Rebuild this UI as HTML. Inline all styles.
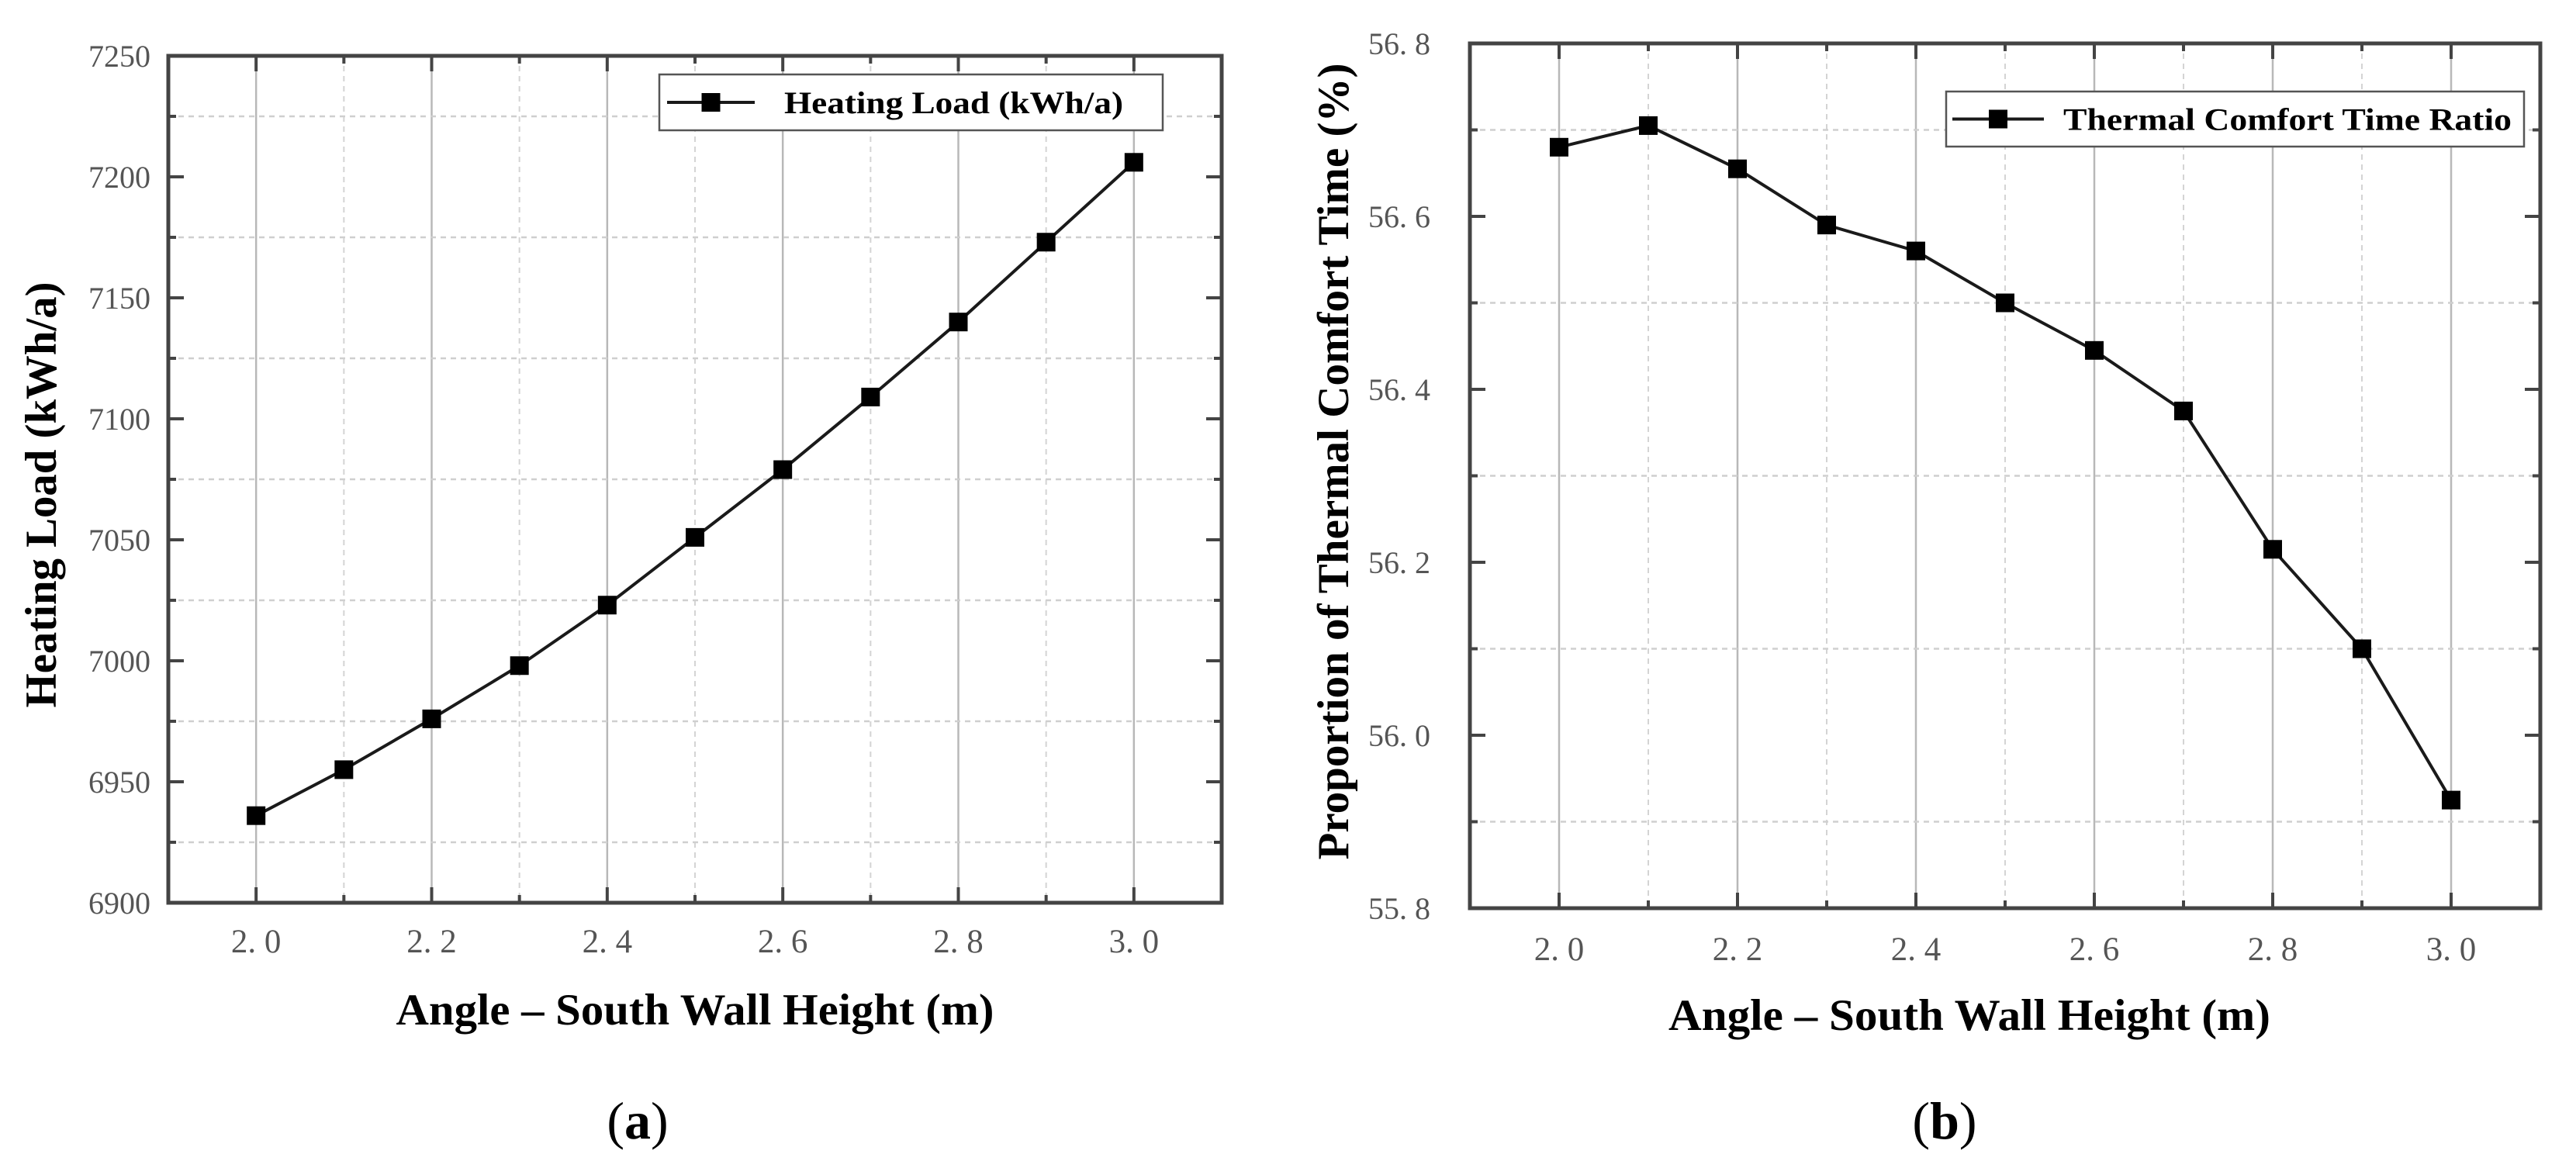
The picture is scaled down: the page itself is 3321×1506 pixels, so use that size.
<!DOCTYPE html>
<html><head><meta charset="utf-8"><style>
html,body{margin:0;padding:0;background:#fff;}
svg{display:block;}
</style></head><body>
<svg id="fig" xmlns="http://www.w3.org/2000/svg" width="3321" height="1506" viewBox="0 0 3321 1506">
<g id="chartA"></g>
<g id="chartB"></g>
</svg>
<script>
// Chart (a) data
const xCategories = [2.0, 2.1, 2.2, 2.3, 2.4, 2.5, 2.6, 2.7, 2.8, 2.9, 3.0];
const heatingLoad = [6936, 6955, 6976, 6998, 7023, 7051, 7079, 7109, 7140, 7173, 7206];
const yTicksA = [6900, 6950, 7000, 7050, 7100, 7150, 7200, 7250];
const yTickLabelsA = ["6900","6950","7000","7050","7100","7150","7200","7250"];
// Chart (b) data
const comfortRatio = [56.68, 56.705, 56.655, 56.59, 56.56, 56.50, 56.445, 56.375, 56.215, 56.10, 55.925];
const yTicksB = [55.8, 56.0, 56.2, 56.4, 56.6, 56.8];
const yTickLabelsB = ["55. 8","56. 0","56. 2","56. 4","56. 6","56. 8"];
const xTicks = [2.0, 2.2, 2.4, 2.6, 2.8, 3.0];
const xTickLabels = ["2. 0","2. 2","2. 4","2. 6","2. 8","3. 0"];

const NS = "http://www.w3.org/2000/svg";
function mk(parent, tag, attrs, text) {
  const e = document.createElementNS(NS, tag);
  for (const k in attrs) e.setAttribute(k, attrs[k]);
  if (text !== undefined) e.textContent = text;
  parent.appendChild(e);
  return e;
}

function drawChart(g, cfg) {
  const L = cfg.L, R = cfg.R, T = cfg.T, B = cfg.B;
  const xs = v => L + (v - 1.9) / 1.2 * (R - L);
  const ys = v => B - (v - cfg.yMin) / (cfg.yMax - cfg.yMin) * (B - T);
  const ticksY = cfg.yTicks;
  const step = ticksY[1] - ticksY[0];
  // grid: vertical
  xCategories.forEach((c, i) => {
    const x = xs(c);
    const ln = mk(g, 'line', {x1:x, x2:x, y1:T, y2:B, stroke: i % 2 === 0 ? '#b8b8b8' : '#d4d4d4', 'stroke-width': i % 2 === 0 ? 2.5 : 2, 'stroke-dasharray': i % 2 === 0 ? '' : '7 6'});
    
    
  });
  // grid: horizontal minor
  for (let i = 0; i < ticksY.length - 1; i++) {
    const y = ys(ticksY[i] + step / 2);
    const ln = mk(g, 'line', {x1:L, x2:R, y1:y, y2:y, stroke:'#cfcfcf', 'stroke-width':2.5, 'stroke-dasharray':'7 6'});
    
    
    for (const [xa, d] of [[L, 10], [R, -10]]) {
      const t = mk(g, 'line', {x1:xa, x2:xa + d, y1:y, y2:y, stroke:'#444', 'stroke-width':4});
      
      
    }
  }
  // y major ticks + labels
  ticksY.forEach((v, i) => {
    const y = ys(v);
    for (const [xa, d] of [[L, 20], [R, -20]]) {
      const t = mk(g, 'line', {x1:xa, x2:xa + d, y1:y, y2:y, stroke:'#444', 'stroke-width':4});
      
      
    }
    const tx = mk(g, 'text', {x:cfg.yLabelX, y:y + 14, 'text-anchor':'end', 'font-family':'"Liberation Serif", serif', 'font-size':40, fill:'#555'}, cfg.yTickLabels[i]);
    
    
  });
  // x ticks
  xCategories.forEach((c, i) => {
    const x = xs(c);
    const len = i % 2 === 0 ? 20 : 10;
    for (const [ya, d] of [[B, -len], [T, len]]) {
      const t = mk(g, 'line', {x1:x, x2:x, y1:ya, y2:ya + d, stroke:'#444', 'stroke-width':4});
      
      
    }
  });
  xTicks.forEach((v, i) => {
    const tx = mk(g, 'text', {x:xs(v), y:cfg.xLabelY, 'text-anchor':'middle', 'font-family':'"Liberation Serif", serif', 'font-size':43, fill:'#555'}, xTickLabels[i]);
    
    
  });
  // frame
  const fr = mk(g, 'rect', {x:L, y:T, width:R - L, height:B - T, fill:'none', stroke:'#444', 'stroke-width':5});
  
  
  // series
  const pts = cfg.values.map((v, i) => xs(xCategories[i]) + ',' + ys(v)).join(' ');
  const pl = mk(g, 'polyline', {points:pts, fill:'none', stroke:'#1a1a1a', 'stroke-width':4});
  
  
  cfg.values.forEach((v, i) => {
    const m = mk(g, 'rect', {x:xs(xCategories[i]) - 12, y:ys(v) - 12, width:24, height:24, fill:'#000'});
    
    
  });
  // legend
  const lg = cfg.legend;
  const lgG = mk(g, 'g', {});
  
  
  mk(lgG, 'rect', {x:lg.x1, y:lg.y1, width:lg.x2 - lg.x1, height:lg.y2 - lg.y1, fill:'#fff', stroke:'#555', 'stroke-width':2.5});
  const cy = (lg.y1 + lg.y2) / 2;
  mk(lgG, 'line', {x1:lg.lx1, x2:lg.lx2, y1:cy, y2:cy, stroke:'#1a1a1a', 'stroke-width':4});
  mk(lgG, 'rect', {x:(lg.lx1 + lg.lx2) / 2 - 12, y:cy - 12, width:24, height:24, fill:'#000'});
  const lt = mk(lgG, 'text', {x:lg.tx1, y:cy + 14, 'font-family':'"Liberation Serif", serif', 'font-weight':'bold', 'font-size':40, fill:'#000', textLength:lg.tx2 - lg.tx1, lengthAdjust:'spacingAndGlyphs'}, lg.text);
  
  
  // axis titles
  const xt = mk(g, 'text', {x:cfg.xTitleX, y:cfg.xTitleY, 'text-anchor':'middle', 'font-family':'"Liberation Serif", serif', 'font-weight':'bold', 'font-size':57, fill:'#000', textLength:cfg.xTitleLen, lengthAdjust:'spacingAndGlyphs'}, 'Angle – South Wall Height (m)');
  
  
  const yt = mk(g, 'text', {x:0, y:0, transform:`translate(${cfg.yTitleX},${cfg.yTitleY}) rotate(-90)`, 'text-anchor':'middle', 'font-family':'"Liberation Serif", serif', 'font-weight':'bold', 'font-size':57, fill:'#000', textLength:cfg.yTitleLen, lengthAdjust:'spacingAndGlyphs'}, cfg.yTitle);
  
  
  // panel label
  const pl2 = mk(g, 'text', {x:cfg.panelX, y:1468, 'text-anchor':'middle', 'font-family':'"Liberation Serif", serif', 'font-size':68, fill:'#000'});
  
  
  mk(pl2, 'tspan', {}, '(');
  mk(pl2, 'tspan', {'font-weight':'bold'}, cfg.panel);
  mk(pl2, 'tspan', {}, ')');
}

drawChart(document.getElementById('chartA'), {
  L:217, R:1575, T:72, B:1164, yMin:6900, yMax:7250,
  yTicks:yTicksA, yTickLabels:yTickLabelsA, values:heatingLoad,
  yLabelX:194, xLabelY:1228,
  legend:{x1:850, y1:96, x2:1499, y2:168, lx1:860, lx2:973, tx1:1011, tx2:1448, text:'Heating Load (kWh/a)'},
  xTitleX:896, xTitleY:1321, xTitleLen:771,
  yTitle:'Heating Load (kWh/a)', yTitleX:72, yTitleY:638, yTitleLen:549,
  panelX:822, panel:'a'
});
drawChart(document.getElementById('chartB'), {
  L:1895, R:3275, T:56, B:1171, yMin:55.8, yMax:56.8,
  yTicks:yTicksB, yTickLabels:yTickLabelsB, values:comfortRatio,
  yLabelX:1844, xLabelY:1238,
  legend:{x1:2509, y1:118, x2:3254, y2:189, lx1:2517, lx2:2635, tx1:2660, tx2:3238, text:'Thermal Comfort Time Ratio'},
  xTitleX:2539, xTitleY:1328, xTitleLen:776,
  yTitle:'Proportion of Thermal Comfort Time (%)', yTitleX:1738, yTitleY:595, yTitleLen:1027,
  panelX:2507, panel:'b'
});
</script>
</body></html>
